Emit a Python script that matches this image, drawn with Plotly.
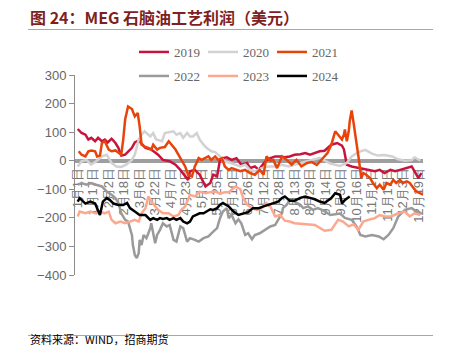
import plotly.graph_objects as go

# ---------------- data (day of year, value in USD) ----------------
tick_days = [0, 16, 32, 48, 64, 80, 96, 112, 128, 144, 160, 176, 192, 208,
             224, 240, 256, 272, 288, 304, 320, 336, 352]
tick_labels = ["1月1日", "1月17日", "2月2日", "2月18日", "3月6日", "3月22日",
               "4月7日", "4月23日", "5月9日", "5月25日", "6月10日", "6月26日",
               "7月12日", "7月28日", "8月13日", "8月29日", "9月14日", "9月30日",
               "10月16日", "11月1日", "11月17日", "12月3日", "12月19日"]

d2019 = [0, 4, 8, 11, 14, 18, 21, 25, 28, 31, 35, 39, 42, 45, 49, 52, 56, 59, 63,
         70, 76, 83, 88, 95, 101, 106, 111, 114, 116, 121, 126, 132, 137, 140, 144,
         147, 150, 154, 159, 164, 169, 175, 178, 183, 187, 190, 194, 199, 204, 209,
         214, 219, 224, 230, 235, 240, 245, 250, 255, 262, 268, 273, 275, 278, 283,
         288, 295, 302, 307, 312, 317, 323, 328, 333, 340, 345, 348, 352, 355]
v2019 = [111, 97, 91, 74, 80, 68, 80, 68, 74, 64, 77, 62, 45, 18, 21, 33, 45, 64, 71,
         45, 39, 21, 3, -2, -14, -32, -55, -67, -37, -32, -49, -90, -78, -49, -55,
         3, 9, 12, 3, 9, -14, -8, -26, -20, -32, -20, -2, 9, 15, 15,
         12, 15, 21, 23, 27, 21, 27, 33, 35, 56, 62, 53, 40, -14, -20,
         -23, -28, -32, -37, -32, -43, -32, -37, -32, -26, -20, -37, -61, -43]

d2020 = [0, 4, 9, 14, 19, 25, 30, 35, 40, 45, 50, 56, 59, 63, 66, 69, 75, 78, 81,
         87, 90, 94, 99, 102, 106, 109, 113, 116, 119, 123, 126, 130, 133, 138, 142,
         147, 152, 158, 163, 168, 173, 178, 183, 190, 197, 204, 211, 218, 224, 231,
         238, 245, 250, 261, 271, 278, 283, 290, 297, 304, 310, 317, 325, 331, 338,
         345, 348, 354]
v2020 = [-20, -2, 3, -14, -2, 15, 21, -8, -20, -22, -14, 3, 21, 74, 91, 103, 85, 97, 74,
         68, 97, 99, 103, 91, 97, 80, 97, 85, 85, 97, 74, 56, 45, 33, 30,
         15, -2, -8, -14, -20, -14, -32, -37, -26, -20, -20, -14, -20, -14, -8,
         0, 5, 10, -10, -18, -8, 15, 30, 38, 25, 18, 20, 15, 5, 0,
         2, 12, 0]

d2021 = [1, 4, 8, 11, 14, 18, 20, 23, 25, 28, 32, 35, 39, 42, 45, 47, 49, 52, 56,
         59, 62, 64, 66, 70, 73, 76, 78, 82, 85, 90, 94, 97, 101, 104, 107, 111,
         114, 118, 121, 125, 128, 132, 135, 138, 142, 145, 149, 152, 156, 159, 163,
         168, 173, 178, 183, 188, 192, 195, 199, 202, 206, 211, 216, 221, 226, 231,
         237, 242, 247, 252, 258, 262, 266, 269, 273, 275, 276, 278, 280, 281, 283,
         285, 288, 290, 293, 295, 298, 302, 305, 309, 312, 316, 319, 323, 326, 329,
         333, 336, 340, 343, 347, 350, 354, 357]
v2021 = [33, 21, 15, 33, 36, 33, 15, 18, 62, 68, 39, 33, 36, 27, 21, 74, 144, 190, 181,
         155, 167, 120, 56, 48, 45, 39, 56, 39, 45, 48, 68, 56, 39, 21, 3, -20,
         -49, -55, -20, 9, 3, 9, 15, 3, 15, 3, 9, -20, -32, -26, -32,
         -37, -32, -43, -49, -32, -49, 15, 0, 3, -26, 15, 3, -14, 3, -20,
         -8, -5, -15, 5, 27, 56, 103, 91, 74, 91, 109, 68, 103, 138, 176,
         132, 50, 15, -61, -43, -49, -61, -78, -96, -84, -102, -78, -84, -67, -78,
         -67, -78, -72, -78, -96, -108, -114, -119]

d2022 = [0, 4, 9, 14, 19, 25, 30, 35, 39, 42, 45, 49, 52, 56, 57, 59, 61, 63, 64,
         66, 68, 71, 75, 76, 80, 82, 85, 88, 92, 95, 99, 102, 106, 109, 113, 116,
         121, 125, 130, 135, 140, 144, 147, 150, 154, 156, 159, 163, 166, 169, 173,
         176, 180, 183, 188, 194, 199, 204, 207, 211, 212, 216, 219, 224, 230, 233,
         238, 243, 248, 254, 261, 271, 276, 283, 288, 292, 297, 304, 311, 316, 321,
         326, 331, 338, 345, 350, 355]
v2022 = [-84, -78, -84, -78, -84, -90, -108, -119, -131, -148, -184, -207, -213, -260,
         -295, -330, -341, -324, -277, -295, -260, -271, -236, -219, -289, -260, -242,
         -219, -230, -225, -277, -283, -230, -236, -283, -271, -277, -283, -271, -265,
         -248, -236, -201, -178, -166, -201, -190, -219, -205, -219, -260, -254, -275,
         -260, -254, -242, -230, -225, -207, -184, -166, -154, -137, -143, -154, -166,
         -160, -172, -166, -175, -190, -185, -200, -207, -230, -260, -265, -260, -265,
         -275, -260, -236, -196, -172, -166, -178, -184]

d2023 = [0, 2, 8, 13, 18, 23, 28, 32, 35, 39, 44, 49, 54, 59, 63, 66, 70, 73, 76,
         80, 83, 88, 94, 99, 104, 107, 111, 116, 121, 126, 132, 137, 142, 147, 152,
         156, 163, 168, 171, 175, 180, 185, 190, 195, 199, 204, 209, 214, 219, 224,
         231, 238, 245, 255, 262, 269, 274, 280, 285, 290, 295, 300, 307, 312, 317,
         324, 331, 338, 343, 348, 354]
v2023 = [-195, -178, -184, -178, -184, -178, -184, -178, -207, -219, -213, -219, -213,
         -207, -213, -184, -166, -125, -143, -160, -172, -184, -184, -195, -190, -172,
         -160, -119, -125, -108, -114, -110, -108, -115, -110, -110, -90, -100, -131,
         -154, -166, -172, -166, -148, -160, -195, -190, -210, -213, -219, -221, -223,
         -225, -245, -242, -207, -213, -230, -223, -242, -213, -207, -201, -190, -195,
         -195, -184, -178, -195, -184, -190]

d2024 = [0, 2, 8, 13, 18, 23, 26, 30, 33, 37, 42, 47, 51, 54, 59, 64, 70, 75, 78,
         82, 85, 88, 92, 95, 99, 102, 106, 109, 113, 116, 119, 123, 126, 130, 133,
         137, 140, 144, 147, 150, 156, 161, 166, 171, 176, 181, 187, 192, 197, 202,
         207, 211, 214, 219, 224, 230, 235, 240, 245, 250, 255, 262, 266, 271, 273,
         276, 280, 281]
v2024 = [-143, -131, -150, -143, -150, -190, -143, -131, -137, -150, -155, -155, -148,
         -166, -178, -190, -190, -207, -201, -207, -201, -204, -201, -207, -201, -207,
         -201, -213, -219, -213, -195, -190, -184, -184, -178, -170, -172, -166, -154,
         -148, -160, -178, -190, -184, -180, -166, -166, -160, -154, -148, -143, -131,
         -125, -140, -140, -130, -125, -130, -135, -143, -148, -131, -114, -119, -150,
         -137, -128, -125]

series = [
    ("2019", d2019, v2019, "#C8143C", "legend"),
    ("2020", d2020, v2020, "#D2D2D2", "legend"),
    ("2021", d2021, v2021, "#E8440A", "legend"),
    ("2022", d2022, v2022, "#9A9A9A", "legend2"),
    ("2023", d2023, v2023, "#FCA88E", "legend2"),
    ("2024", d2024, v2024, "#000000", "legend2"),
]

W, H = 451, 349
ML, MR, MT, MB = 75, 28, 75, 74
PW, PH = W - ML - MR, H - MT - MB
YMIN, YMAX = -400, 300


def px_x(px):
    return (px - ML) / PW


def px_y(py):
    return (H - MB - py) / PH


fig = go.Figure()
for name, d, v, c, lg in series:
    fig.add_trace(go.Scatter(x=d, y=v, mode="lines", name=name,
                             line=dict(color=c, width=2.5), legend=lg))

legend_common = dict(orientation="h", xanchor="left", yanchor="middle",
                     bgcolor="rgba(0,0,0,0)", borderwidth=0,
                     font=dict(family="Liberation Serif", size=13, color="#666666"),
                     itemwidth=30, entrywidth=24, entrywidthmode="pixels",
                     itemclick=False)

fig.update_layout(
    width=W, height=H,
    margin=dict(l=ML, r=MR, t=MT, b=MB, pad=0),
    paper_bgcolor="white", plot_bgcolor="white",
    showlegend=True,
    legend=dict(x=px_x(134), y=px_y(52), **legend_common),
    legend2=dict(x=px_x(134), y=px_y(76), **legend_common),
    xaxis=dict(range=[-2.8, 356.7], tickvals=tick_days, ticktext=tick_labels,
               tickangle=-90, showgrid=False, zeroline=False,
               showline=True, linecolor="#9E9E9E", linewidth=4,
               ticks="", anchor="free", position=(0 - YMIN) / (YMAX - YMIN),
               layer="below traces",
               tickfont=dict(family="Liberation Sans", size=13, color="#777777")),
    yaxis=dict(range=[YMIN, YMAX], tickvals=list(range(-400, 301, 100)),
               showgrid=False, zeroline=False, showline=True,
               linecolor="#8C8C8C", linewidth=1, ticks="outside", ticklen=5,
               tickcolor="#8C8C8C",
               tickfont=dict(family="Liberation Sans", size=13, color="#666666")),
    font=dict(family="Liberation Sans"),
)

# title and decorations
fig.add_annotation(xref="paper", yref="paper", x=px_x(28), y=px_y(17),
                   xanchor="left", yanchor="middle", showarrow=False,
                   text="<b>图 24：MEG 石脑油工艺利润（美元）</b>",
                   font=dict(family="Noto Sans CJK SC", size=16, color="#7F1F1F"))
fig.add_shape(type="line", xref="paper", yref="paper",
              x0=px_x(28), x1=px_x(433), y0=px_y(29.5), y1=px_y(29.5),
              line=dict(color="#C89A9A", width=1))
fig.add_shape(type="line", xref="paper", yref="paper",
              x0=px_x(28), x1=px_x(433), y0=px_y(335.5), y1=px_y(335.5),
              line=dict(color="#C89A9A", width=1))
fig.add_annotation(xref="paper", yref="paper", x=px_x(28), y=px_y(349),
                   xanchor="left", yanchor="bottom", showarrow=False,
                   text="资料来源：WIND，招商期货",
                   font=dict(family="Noto Sans CJK SC", size=11, color="#000000"))

fig.write_html("out.html")
